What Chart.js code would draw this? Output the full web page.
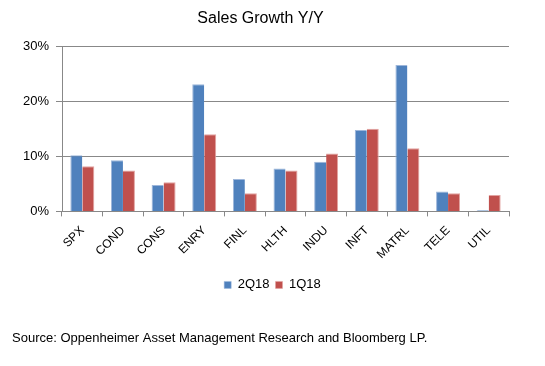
<!DOCTYPE html>
<html><head><meta charset="utf-8">
<script src="https://cdn.jsdelivr.net/npm/chart.js@4/dist/chart.umd.min.js"></script>
<style>html,body{margin:0;padding:0;background:#fff}#wrap{width:545px;height:366px}</style>
</head><body><div id="wrap"><canvas id="c" width="545" height="366"></canvas></div>
<script>
const categories = ["SPX","COND","CONS","ENRY","FINL","HLTH","INDU","INFT","MATRL","TELE","UTIL"];
const series2Q18 = [10.2, 9.3, 4.8, 23.1, 5.9, 7.8, 9.0, 14.8, 26.6, 3.6, 0.2];
const series1Q18 = [8.2, 7.45, 5.3, 14.0, 3.3, 7.45, 10.5, 15.0, 11.45, 3.3, 3.0];
const yTicks = [0, 10, 20, 30];

const shiftLegend = {
  id: 'shiftLegend',
  afterLayout(chart) {
    const l = chart.legend;
    if (l) { l.left += 12; l.right += 12; }
  }
};

new Chart(document.getElementById('c'), {
  type: 'bar',
  data: {
    labels: categories,
    datasets: [
      {label: '2Q18', data: series2Q18, backgroundColor: '#4F81BD', borderColor: '#9DB6DA', borderWidth: {left:1,top:1,right:0,bottom:0}},
      {label: '1Q18', data: series1Q18, backgroundColor: '#C0504D', borderColor: '#E2A3A1', borderWidth: {left:0,top:1,right:1,bottom:0}}
    ]
  },
  plugins: [shiftLegend],
  options: {
    responsive: false,
    animation: false,
    layout: {padding: {left: 12, right: 36, top: 0, bottom: 10}},
    datasets: {bar: {categoryPercentage: 0.59, barPercentage: 1.0}},
    scales: {
      x: {
        grid: {display: true, drawOnChartArea: false, drawTicks: true, tickLength: 5, color: '#888', offset: true},
        border: {display: true, color: '#888', width: 1},
        ticks: {color: '#000', font: {family: 'Liberation Sans', size: 12}, minRotation: 45, maxRotation: 45, padding: 7, autoSkip: false},
        afterFit: s => { s.height = 61; }
      },
      y: {
        min: 0, max: 30,
        afterBuildTicks: s => { s.ticks = yTicks.map(v => ({value: v})); },
        grid: {color: '#888', lineWidth: 1, tickLength: 6, drawTicks: true},
        border: {display: true, color: '#888', width: 1},
        ticks: {color: '#000', font: {family: 'Liberation Sans', size: 13}, padding: 7, callback: v => v + '%'},
        afterFit: s => { s.width = 50; }
      }
    },
    plugins: {
      title: {display: true, text: 'Sales Growth Y/Y', color: '#000', font: {family: 'Liberation Sans', size: 16, weight: 'normal'}, padding: {top: 9, bottom: 18}},
      subtitle: {display: true, position: 'bottom', align: 'start', text: 'Source: Oppenheimer Asset Management Research and Bloomberg LP.', color: '#000', font: {family: 'Liberation Sans', size: 13}, padding: {top: 29, bottom: 10}},
      legend: {position: 'bottom', labels: {boxWidth: 7, boxHeight: 7, color: '#000', font: {family: 'Liberation Sans', size: 13}, padding: 6}},
      tooltip: {enabled: false}
    }
  }
});
</script></body></html>
